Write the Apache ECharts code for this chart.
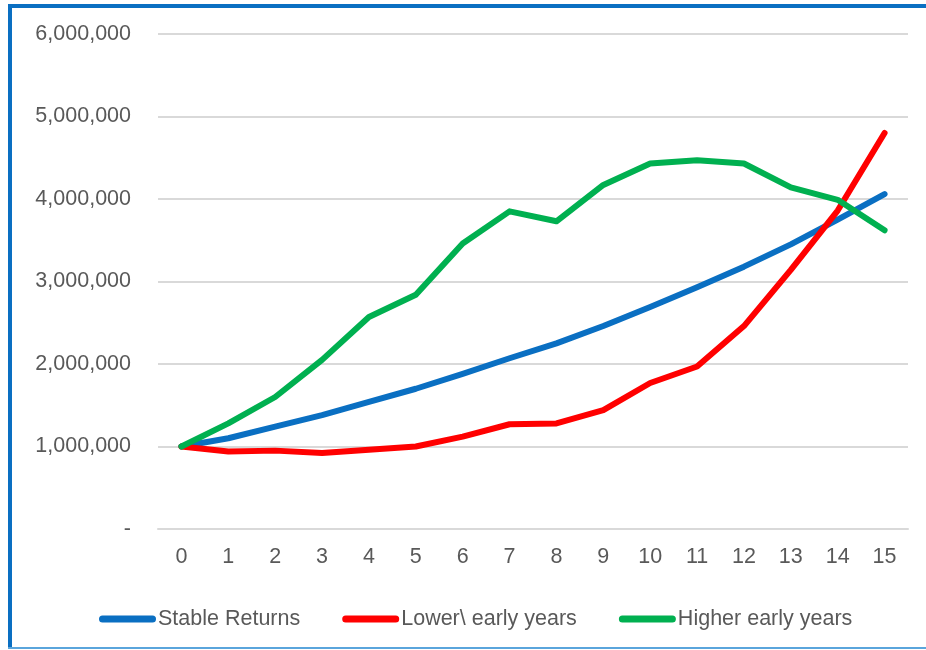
<!DOCTYPE html>
<html>
<head>
<meta charset="utf-8">
<script src="https://cdn.jsdelivr.net/npm/echarts@6/dist/echarts.min.js"></script>
<style>
  html, body { margin: 0; padding: 0; background: #ffffff; }
  #wrap { position: relative; width: 926px; height: 650px; overflow: hidden; background: #fff; }
  #chart { position: absolute; left: 0; top: 0; width: 926px; height: 650px; }
  #frame { position: absolute; left: 8px; top: 4px; width: 940px; height: 640px;
           border-left: 4px solid #0a6fc2; border-top: 4px solid #0a6fc2; pointer-events: none; }
  #bottomline { position: absolute; left: 8px; top: 647px; width: 940px; height: 2px; background: #5aa5dc; }
</style>
</head>
<body>
<div id="wrap">
  <div id="chart"></div>
  <div id="frame"></div>
  <div id="bottomline"></div>
</div>
<script>
const years = ['0','1','2','3','4','5','6','7','8','9','10','11','12','13','14','15'];
const stableReturns = [1000000, 1100000, 1240000, 1380000, 1540000, 1700000, 1880000, 2070000, 2250000, 2460000, 2690000, 2930000, 3180000, 3450000, 3750000, 4060000];
const lowerEarlyYears = [1000000, 940000, 950000, 920000, 960000, 1000000, 1120000, 1270000, 1280000, 1440000, 1770000, 1970000, 2460000, 3140000, 3860000, 4800000];
const higherEarlyYears = [1000000, 1280000, 1600000, 2050000, 2570000, 2840000, 3460000, 3850000, 3730000, 4170000, 4430000, 4470000, 4430000, 4140000, 3990000, 3620000];
const yTickLabels = ['-', '1,000,000', '2,000,000', '3,000,000', '4,000,000', '5,000,000', '6,000,000'];
const seriesNames = ['Stable Returns', 'Lower\\ early years', 'Higher early years'];

const FONT = '"Liberation Sans", Arial, sans-serif';
const chart = echarts.init(document.getElementById('chart'), null, { renderer: 'canvas' });
const capsule = 'path://M3.5,0 L53.5,0 A3.5,3.5 0 0 1 53.5,7 L3.5,7 A3.5,3.5 0 0 1 3.5,0 Z';

function lineSeries(name, data, color) {
  return {
    name: name, type: 'line', data: data,
    symbol: 'none', smooth: false,
    lineStyle: { color: color, width: 6, cap: 'round', join: 'round' },
    itemStyle: { color: color },
    animation: false
  };
}

chart.setOption({
  animation: false,
  backgroundColor: '#ffffff',
  grid: { left: 158, right: 18, top: 34, bottom: 121, containLabel: false },
  xAxis: {
    type: 'category', data: years, boundaryGap: true,
    axisLine: { show: true, lineStyle: { color: '#d9d9d9', width: 2 } },
    axisTick: { show: false },
    axisLabel: { color: '#595959', fontFamily: FONT, fontSize: 21.5, margin: 17 },
    splitLine: { show: false }
  },
  yAxis: {
    type: 'value', min: 0, max: 6000000, interval: 1000000,
    axisLine: { show: false }, axisTick: { show: false },
    axisLabel: {
      color: '#595959', fontFamily: FONT, fontSize: 21.5, margin: 27,
      formatter: function (v) { return yTickLabels[Math.round(v / 1000000)]; }
    },
    splitLine: { lineStyle: { color: '#d9d9d9', width: 2 } }
  },
  legend: {
    left: 94, top: 603,
    itemWidth: 57, itemHeight: 7, itemGap: 42,
    icon: capsule,
    textStyle: { color: '#595959', fontFamily: FONT, fontSize: 21.5, padding: [0, 0, 0, -3] },
    data: seriesNames
  },
  series: [
    lineSeries(seriesNames[0], stableReturns, '#0a6fc2'),
    lineSeries(seriesNames[1], lowerEarlyYears, '#ff0000'),
    lineSeries(seriesNames[2], higherEarlyYears, '#00b050')
  ]
});
</script>
</body>
</html>
